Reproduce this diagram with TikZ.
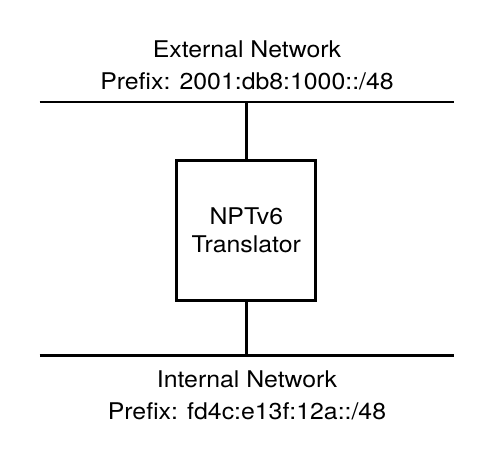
\documentclass[tikz,border=0pt]{standalone}
\usepackage{fontspec}
\setmainfont{TeX Gyre Heros}[FakeStretch=1.08]
\begin{document}
\begin{tikzpicture}[x=1pt,y=-1pt,line width=2.7pt,
  lbl/.style={anchor=base,inner sep=0pt,font=\fontsize{23}{31}\selectfont},
  boxnode/.style={draw,minimum width=139pt,minimum height=140pt,inner sep=0pt,align=center,font=\fontsize{23}{28}\selectfont}]
\useasboundingbox (0,0) rectangle (491,471);
\node[lbl] (ext1) at (247,57) {External Network};
\node[lbl] (ext2) at (247,89) {Prefix: 2001:db8:1000::/48};
\coordinate (tl) at (39.5,102);
\coordinate (tr) at (453.5,102);
\draw (tl) -- (tr);
\node[boxnode] (npt) at (246.3,230.5) {NPTv6\\Translator};
\coordinate (bl) at (39.5,355.5);
\coordinate (br) at (453.5,355.5);
\draw (bl) -- (br);
\draw (npt.north) -- (npt.north |- tl);
\draw (npt.south) -- (npt.south |- bl);
\node[lbl] (int1) at (247,387.7) {Internal Network};
\node[lbl] (int2) at (247,419) {Prefix: fd4c:e13f:12a::/48};
\end{tikzpicture}
\end{document}
